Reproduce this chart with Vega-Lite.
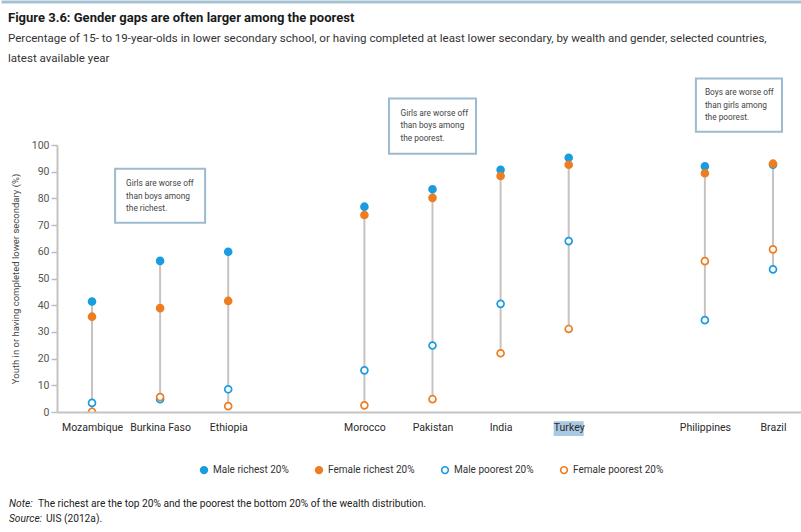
{
  "$schema": "https://vega.github.io/schema/vega-lite/v6.json",
  "width": 751,
  "height": 267,
  "padding": {"left": 0, "top": 0, "right": 0, "bottom": 4},
  "background": "white",
  "config": {
    "view": {"stroke": null},
    "font": "Roboto",
    "text": {"font": "Roboto"},
    "axis": {"labelFont": "Roboto", "titleFont": "Roboto"},
    "axisY": {"grid": false, "labelOverlap": false, "domainColor": "#c4c4c4", "domainWidth": 2, "tickColor": "#bdbdbd", "tickSize": 6, "tickWidth": 1.5, "labelFontSize": 10.5, "labelColor": "#555555", "labelPadding": 2, "titleFontSize": 9.5, "titleFontWeight": "normal", "titleColor": "#444444", "titlePadding": 11},
    "legend": {"labelFont": "Roboto"}
  },
  "title": {
    "text": "Figure 3.6: Gender gaps are often larger among the poorest",
    "subtitle": ["Percentage of 15- to 19-year-olds in lower secondary school, or having completed at least lower secondary, by wealth and gender, selected countries,", "latest available year"],
    "anchor": "start",
    "frame": "bounds",
    "dx": 8,
    "offset": -64,
    "font": "Roboto",
    "fontSize": 13,
    "fontWeight": "bold",
    "color": "#1a1a1a",
    "subtitleFont": "Roboto",
    "subtitleFontSize": 11.55,
    "subtitleColor": "#333333",
    "subtitleLineHeight": 20,
    "subtitlePadding": 8
  },
  "datasets": {
    "points": [
      {"country": "Mozambique", "group": "Male richest 20%", "value": 41.4},
      {"country": "Mozambique", "group": "Female richest 20%", "value": 35.7},
      {"country": "Mozambique", "group": "Male poorest 20%", "value": 3.4},
      {"country": "Mozambique", "group": "Female poorest 20%", "value": 0.1},
      {"country": "Burkina Faso", "group": "Male richest 20%", "value": 56.6},
      {"country": "Burkina Faso", "group": "Female richest 20%", "value": 38.9},
      {"country": "Burkina Faso", "group": "Male poorest 20%", "value": 4.8},
      {"country": "Burkina Faso", "group": "Female poorest 20%", "value": 5.6},
      {"country": "Ethiopia", "group": "Male richest 20%", "value": 60.0},
      {"country": "Ethiopia", "group": "Female richest 20%", "value": 41.6},
      {"country": "Ethiopia", "group": "Male poorest 20%", "value": 8.5},
      {"country": "Ethiopia", "group": "Female poorest 20%", "value": 2.2},
      {"country": "Morocco", "group": "Male richest 20%", "value": 76.9},
      {"country": "Morocco", "group": "Female richest 20%", "value": 73.8},
      {"country": "Morocco", "group": "Male poorest 20%", "value": 15.6},
      {"country": "Morocco", "group": "Female poorest 20%", "value": 2.5},
      {"country": "Pakistan", "group": "Male richest 20%", "value": 83.4},
      {"country": "Pakistan", "group": "Female richest 20%", "value": 80.2},
      {"country": "Pakistan", "group": "Male poorest 20%", "value": 24.9},
      {"country": "Pakistan", "group": "Female poorest 20%", "value": 4.8},
      {"country": "India", "group": "Male richest 20%", "value": 90.7},
      {"country": "India", "group": "Female richest 20%", "value": 88.4},
      {"country": "India", "group": "Male poorest 20%", "value": 40.5},
      {"country": "India", "group": "Female poorest 20%", "value": 22.0},
      {"country": "Turkey", "group": "Male richest 20%", "value": 95.2},
      {"country": "Turkey", "group": "Female richest 20%", "value": 92.6},
      {"country": "Turkey", "group": "Male poorest 20%", "value": 64.0},
      {"country": "Turkey", "group": "Female poorest 20%", "value": 31.1},
      {"country": "Philippines", "group": "Male richest 20%", "value": 92.0},
      {"country": "Philippines", "group": "Female richest 20%", "value": 89.4},
      {"country": "Philippines", "group": "Male poorest 20%", "value": 34.4},
      {"country": "Philippines", "group": "Female poorest 20%", "value": 56.5},
      {"country": "Brazil", "group": "Male richest 20%", "value": 92.6},
      {"country": "Brazil", "group": "Female richest 20%", "value": 93.0},
      {"country": "Brazil", "group": "Male poorest 20%", "value": 53.4},
      {"country": "Brazil", "group": "Female poorest 20%", "value": 60.9}
    ],
    "one": [{"n": 1}]
  },
  "layer": [
    {
      "data": {"name": "points"},
      "transform": [{"aggregate": [{"op": "min", "field": "value", "as": "low"}, {"op": "max", "field": "value", "as": "high"}], "groupby": ["country"]}],
      "mark": {"type": "rule", "color": "#c9c3bf", "strokeWidth": 2},
      "encoding": {
        "x": {
          "field": "country",
          "type": "nominal",
          "scale": {"type": "point", "domain": ["Mozambique", "Burkina Faso", "Ethiopia", " ", "Morocco", "Pakistan", "India", "Turkey", "  ", "Philippines", "Brazil"], "padding": 0.514},
          "axis": {"title": null, "ticks": false, "labelAngle": 0, "domainColor": "#c4c4c4", "domainWidth": 2, "labelFontSize": 10.5, "labelColor": "#2a2a2a", "labelPadding": 10, "zindex": 1}
        },
        "y": {"field": "low", "type": "quantitative", "scale": {"domain": [0, 100], "nice": false}, "axis": {"title": "Youth in or having completed lower secondary (%)", "values": [0, 10, 20, 30, 40, 50, 60, 70, 80, 90, 100], "tickCount": 20}},
        "y2": {"field": "high"}
      }
    },
    {
      "data": {"name": "points"},
      "mark": {"type": "point", "shape": "circle", "size": 48, "strokeWidth": 1.7, "opacity": 1, "clip": true},
      "encoding": {
        "x": {"field": "country", "type": "nominal"},
        "y": {"field": "value", "type": "quantitative", "axis": {"title": "Youth in or having completed lower secondary (%)", "values": [0, 10, 20, 30, 40, 50, 60, 70, 80, 90, 100], "tickCount": 20}},
        "fill": {"field": "group", "type": "nominal", "scale": {"domain": ["Male richest 20%", "Female richest 20%", "Male poorest 20%", "Female poorest 20%"], "range": ["#1a9de0", "#ee7d22", "#ffffff", "#ffffff"]}, "legend": {"title": null, "orient": "none", "legendX": 142, "legendY": 320, "direction": "horizontal", "columnPadding": 23, "symbolSize": 45, "symbolStrokeWidth": 1.7, "labelFontSize": 10, "labelColor": "#333333", "labelOffset": 4}},
        "stroke": {"field": "group", "type": "nominal", "scale": {"domain": ["Male richest 20%", "Female richest 20%", "Male poorest 20%", "Female poorest 20%"], "range": ["#1a9de0", "#ee7d22", "#1a9de0", "#ee7d22"]}, "legend": {"title": null, "orient": "none", "legendX": 142, "legendY": 320, "direction": "horizontal", "columnPadding": 23, "symbolSize": 45, "symbolStrokeWidth": 1.7, "labelFontSize": 10, "labelColor": "#333333", "labelOffset": 4}}
      }
    },
    {
      "data": {"name": "one"},
      "mark": {"type": "rule", "color": "#a6c1d4", "strokeWidth": 3, "xOffset": -90.5, "x2Offset": 40},
      "encoding": {"x": {"datum": "Mozambique"}, "x2": {"datum": "Brazil"}, "y": {"datum": 153.6, "axis": {"title": "Youth in or having completed lower secondary (%)", "values": [0, 10, 20, 30, 40, 50, 60, 70, 80, 90, 100], "tickCount": 20}}}
    },
    {
      "data": {"name": "one"},
      "mark": {"type": "rect", "fill": "#a9c9e2", "xOffset": -15, "x2Offset": 15},
      "encoding": {"x": {"datum": "Turkey"}, "x2": {"datum": "Turkey"}, "y": {"datum": -3.5, "axis": {"title": "Youth in or having completed lower secondary (%)", "values": [0, 10, 20, 30, 40, 50, 60, 70, 80, 90, 100], "tickCount": 20}}, "y2": {"datum": -9.0}}
    },
    {
      "data": {"name": "one"},
      "mark": {"type": "rect", "fill": "white", "stroke": "#9dbbd0", "strokeWidth": 2, "xOffset": -45, "x2Offset": 45},
      "encoding": {"x": {"datum": "Burkina Faso"}, "x2": {"datum": "Burkina Faso"}, "y": {"datum": 91.1, "axis": {"title": "Youth in or having completed lower secondary (%)", "values": [0, 10, 20, 30, 40, 50, 60, 70, 80, 90, 100], "tickCount": 20}}, "y2": {"datum": 70.9}}
    },
    {
      "data": {"name": "one"},
      "mark": {"type": "text", "text": ["Girls are worse off", "than boys among", "the richest."], "align": "left", "baseline": "top", "dx": -34, "fontSize": 8.3, "lineHeight": 12.5, "color": "#444444"},
      "encoding": {"x": {"datum": "Burkina Faso"}, "y": {"datum": 87.2, "axis": {"title": "Youth in or having completed lower secondary (%)", "values": [0, 10, 20, 30, 40, 50, 60, 70, 80, 90, 100], "tickCount": 20}}}
    },
    {
      "data": {"name": "one"},
      "mark": {"type": "rect", "fill": "white", "stroke": "#9dbbd0", "strokeWidth": 2, "xOffset": -43.5, "x2Offset": 43.5},
      "encoding": {"x": {"datum": "Pakistan"}, "x2": {"datum": "Pakistan"}, "y": {"datum": 117.4, "axis": {"title": "Youth in or having completed lower secondary (%)", "values": [0, 10, 20, 30, 40, 50, 60, 70, 80, 90, 100], "tickCount": 20}}, "y2": {"datum": 96.7}}
    },
    {
      "data": {"name": "one"},
      "mark": {"type": "text", "text": ["Girls are worse off", "than boys among", "the poorest."], "align": "left", "baseline": "top", "dx": -32, "fontSize": 8.3, "lineHeight": 12.5, "color": "#444444"},
      "encoding": {"x": {"datum": "Pakistan"}, "y": {"datum": 113.6, "axis": {"title": "Youth in or having completed lower secondary (%)", "values": [0, 10, 20, 30, 40, 50, 60, 70, 80, 90, 100], "tickCount": 20}}}
    },
    {
      "data": {"name": "one"},
      "mark": {"type": "rect", "fill": "white", "stroke": "#9dbbd0", "strokeWidth": 2, "xOffset": -9, "x2Offset": 9},
      "encoding": {"x": {"datum": "Philippines"}, "x2": {"datum": "Brazil"}, "y": {"datum": 124.9, "axis": {"title": "Youth in or having completed lower secondary (%)", "values": [0, 10, 20, 30, 40, 50, 60, 70, 80, 90, 100], "tickCount": 20}}, "y2": {"datum": 105.0}}
    },
    {
      "data": {"name": "one"},
      "mark": {"type": "text", "text": ["Boys are worse off", "than girls among", "the poorest."], "align": "left", "baseline": "top", "dx": 0, "fontSize": 8.3, "lineHeight": 12.5, "color": "#444444"},
      "encoding": {"x": {"datum": "Philippines"}, "y": {"datum": 121.3, "axis": {"title": "Youth in or having completed lower secondary (%)", "values": [0, 10, 20, 30, 40, 50, 60, 70, 80, 90, 100], "tickCount": 20}}}
    },
    {
      "data": {"name": "one"},
      "mark": {"type": "text", "text": "Note:", "fontStyle": "italic", "align": "left", "baseline": "middle", "dx": -83, "fontSize": 10.2, "color": "#222222"},
      "encoding": {"x": {"datum": "Mozambique"}, "y": {"datum": -34.5, "axis": {"title": "Youth in or having completed lower secondary (%)", "values": [0, 10, 20, 30, 40, 50, 60, 70, 80, 90, 100], "tickCount": 20}}}
    },
    {
      "data": {"name": "one"},
      "mark": {"type": "text", "text": "The richest are the top 20% and the poorest the bottom 20% of the wealth distribution.", "align": "left", "baseline": "middle", "dx": -54, "fontSize": 10.2, "color": "#222222"},
      "encoding": {"x": {"datum": "Mozambique"}, "y": {"datum": -34.5, "axis": {"title": "Youth in or having completed lower secondary (%)", "values": [0, 10, 20, 30, 40, 50, 60, 70, 80, 90, 100], "tickCount": 20}}}
    },
    {
      "data": {"name": "one"},
      "mark": {"type": "text", "text": "Source:", "fontStyle": "italic", "align": "left", "baseline": "middle", "dx": -83, "fontSize": 10.2, "color": "#222222"},
      "encoding": {"x": {"datum": "Mozambique"}, "y": {"datum": -40.2, "axis": {"title": "Youth in or having completed lower secondary (%)", "values": [0, 10, 20, 30, 40, 50, 60, 70, 80, 90, 100], "tickCount": 20}}}
    },
    {
      "data": {"name": "one"},
      "mark": {"type": "text", "text": "UIS (2012a).", "align": "left", "baseline": "middle", "dx": -46, "fontSize": 10.2, "color": "#222222"},
      "encoding": {"x": {"datum": "Mozambique"}, "y": {"datum": -40.2, "axis": {"title": "Youth in or having completed lower secondary (%)", "values": [0, 10, 20, 30, 40, 50, 60, 70, 80, 90, 100], "tickCount": 20}}}
    }
  ]
}
